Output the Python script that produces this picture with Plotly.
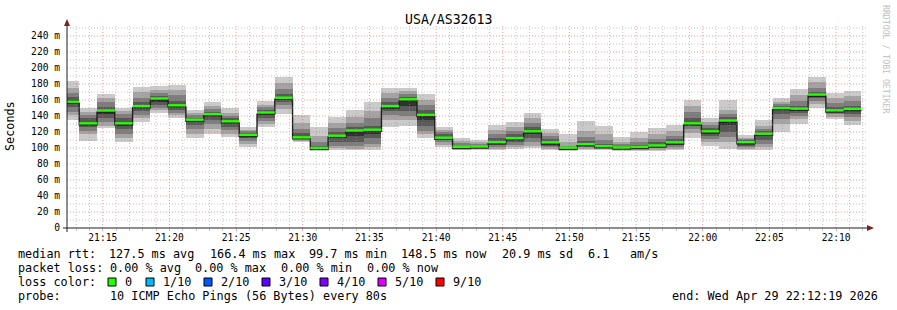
import plotly.graph_objects as go
import pandas as pd

# ---------------- data ----------------
title = "USA/AS32613"
start_time = "2026-04-29 21:12:19"
end_time = "2026-04-29 22:12:19"
first_step = "2026-04-29 21:11:54"
step_s = 80

median = [157.5, 130.5, 146.5, 130.5, 152, 161.5, 153, 135, 142, 133,
          116, 144, 162.5, 113, 99.7, 115, 121.5, 122.5, 152, 160.5,
          141, 112.5, 101, 101.5, 107, 112, 120.5, 106.7, 100, 104.5,
          102, 100.3, 101, 102.8, 106.7, 130.5, 120.5, 134, 107, 117.5,
          149.6, 148.8, 166.4, 146.7, 148.5]

# sorted ping ranks (1 = fastest ... 10 = slowest) per 80 s step
rank1 = [135, 109, 125, 108, 133, 144, 137, 112, 118, 114, 101, 126, 143, 107, 97, 97, 97, 97, 126, 128,
         112, 101, 97.5, 97, 97, 99, 100, 97, 96, 97, 97, 96, 96.5, 96.5, 97, 112, 103, 99, 97, 97,
         120, 130, 150, 136, 129]
rank2 = [141, 117, 128, 112, 137, 147, 141, 118, 124, 118, 105, 130, 149, 109, 98, 100, 99, 101, 135, 135,
         117, 104, 99, 98.5, 99, 101, 103, 99, 97.5, 99, 98.5, 97.5, 98, 98, 99, 119, 107, 107, 99, 101,
         130, 136, 155, 139, 134]
rank3 = [145, 121, 133, 118, 141, 150, 144, 124, 130, 122, 109, 134, 154, 111, 99, 103, 102, 105, 141, 140,
         121, 107, 100, 99.5, 101, 104, 107, 101, 98.5, 101, 100, 98.5, 99, 99.5, 101, 124, 111, 114, 101, 105,
         136, 140, 159, 142, 139]
rank4 = [151, 126, 137, 124, 146, 154, 148, 129, 135, 126, 112, 138, 158, 113, 99.5, 107, 107, 112, 146, 146,
         127, 110, 100.5, 100.5, 104, 107, 112, 103, 99, 102, 101, 99.5, 100, 101, 103.5, 127, 115, 120, 103, 110,
         142, 144, 163, 145, 143]
rank5 = [155, 129, 143, 128, 150, 158, 151, 133, 140, 131, 114, 142, 161, 114, 100, 112, 115, 118, 149, 153,
         135, 112, 101, 101, 106, 110, 117, 105, 99.5, 103.5, 101.5, 100, 101, 102, 105.5, 129, 118, 129, 106, 115,
         147, 147, 165, 146, 147]
rank6 = [160, 132, 148, 132, 153, 162, 154, 136, 143, 134, 117, 145, 164, 115, 101, 116, 122, 123, 153, 161,
         143, 114, 101.5, 102, 108, 113, 121, 108, 100, 105.5, 102.5, 101, 102, 104, 107.5, 132, 122, 135, 108, 119,
         151, 150, 167, 148, 150]
rank7 = [164, 137, 151, 137, 157, 165, 159, 138, 145, 137, 119, 148, 168, 119, 103, 120, 126, 128, 158, 164,
         148, 117, 103, 103, 112, 117, 126, 111, 101, 109, 105, 102.5, 104, 107, 111, 137, 125, 139, 109.5, 121,
         153, 153, 170, 151, 153]
rank8 = [169, 141, 157, 142, 163, 169, 166, 141, 149, 140, 121, 151, 174, 124, 108, 125, 131, 137, 163, 167,
         154, 120, 106, 105, 117, 121, 131, 115, 103, 114, 110, 105, 107, 111, 115, 145, 129, 143, 111, 124,
         155, 159, 175, 156, 159]
rank9 = [175, 145, 163, 146, 170, 173, 172, 144, 153, 144, 123, 154, 181, 131, 115, 131, 139, 146, 169, 171,
         160, 123, 109, 107, 122, 126, 137, 119, 107, 121, 117, 108, 112, 117, 121, 152, 133, 148, 113, 128,
         158, 166, 182, 162, 165]
rank10 = [184, 150, 168, 150, 176, 178, 179, 147, 158, 150, 126, 159, 189, 141, 126, 139, 147, 158, 175, 175,
          167, 126, 112, 110, 129, 133, 144, 124, 117, 134, 127, 114, 120, 125, 129, 160, 138, 160, 116, 135,
          162, 174, 189, 169, 171]

y_ticks = [0, 20, 40, 60, 80, 100, 120, 140, 160, 180, 200, 220, 240]
y_tick_text = ["0", "20 m", "40 m", "60 m", "80 m", "100 m", "120 m", "140 m",
               "160 m", "180 m", "200 m", "220 m", "240 m"]
y_max = 253.75

loss_labels = ["0", "1/10", "2/10", "3/10", "4/10", "5/10", "9/10"]
loss_colors = ["#26ff00", "#00b8ff", "#0059ff", "#5e00ff", "#7e00ff", "#dd00ff", "#ff0000"]

rtt_row = ["127.5 ms avg", "166.4 ms max", "99.7 ms min", "148.5 ms now", "20.9 ms sd", "6.1", "am/s"]
loss_row = ["0.00 % avg", "0.00 % max", "0.00 % min", "0.00 % now"]
probe_text = "10 ICMP Echo Pings (56 Bytes) every 80s"
end_text = "end: Wed Apr 29 22:12:19 2026"

# ---------------- style / geometry ----------------
FONT = "DejaVu Sans Mono"
W, H = 897, 310
L, R, T, B = 67, 867, 25, 228


def fx(p):
    return (p - L) / (R - L)


def fy(p):
    return (B - p) / (B - T)


band_colors = ["#cacaca", "#a4a4a4", "#7e7e7e", "#585858", "#323232"]
grid_minor = "rgba(143,143,143,0.55)"
grid_major = "rgba(222,79,79,0.55)"
arrow_col = "#7f1f1f"
axis_col = "#1f1f1f"
GDASH = "1px,2px"

starts = pd.date_range(first_step, periods=len(median), freq=f"{step_s}s")
centers = starts + pd.Timedelta(seconds=step_s / 2)
ends = starts + pd.Timedelta(seconds=step_s)

ranks = [rank1, rank2, rank3, rank4, rank5, rank6, rank7, rank8, rank9, rank10]

fig = go.Figure()

# smoke bands
for i in range(5):
    lo = ranks[i]
    hi = ranks[9 - i]
    fig.add_trace(go.Bar(
        x=centers, y=[h - l for h, l in zip(hi, lo)], base=lo,
        width=step_s * 1000,
        marker=dict(color=band_colors[i], line=dict(width=0)),
        hoverinfo="skip", showlegend=False,
    ))

# black median step line (with vertical joins)
mpx = (B - T) / y_max  # px per ms
fig.add_trace(go.Scatter(
    x=list(starts) + [ends[-1]],
    y=[m - 1.3 / mpx for m in median] + [median[-1] - 1.3 / mpx],
    mode="lines", line=dict(shape="hv", color="#202020", width=1.4),
    hoverinfo="skip", showlegend=False,
))

# green (0 loss) median marks
gx, gy = [], []
for s, e, m in zip(starts, ends, median):
    gx += [s, e, None]
    gy += [m + 0.3 / mpx, m + 0.3 / mpx, None]
fig.add_trace(go.Scatter(
    x=gx, y=gy, mode="lines", line=dict(color=loss_colors[0], width=2.4),
    hoverinfo="skip", showlegend=False,
))

shapes = []
# grid drawn above the data (rrdtool style)
for v in range(10, int(y_max) + 1, 10):
    if v % 20 == 0:
        continue
    shapes.append(dict(type="line", xref="paper", yref="y", x0=0, x1=1, y0=v, y1=v,
                       line=dict(color=grid_minor, width=1, dash=GDASH), layer="above"))
for v in y_ticks[1:]:
    shapes.append(dict(type="line", xref="paper", yref="y", x0=0, x1=1, y0=v, y1=v,
                       line=dict(color=grid_major, width=1, dash=GDASH), layer="above"))
t = pd.Timestamp(start_time).ceil("60s")
tend = pd.Timestamp(end_time)
while t <= tend:
    major = (t.minute % 5 == 0)
    shapes.append(dict(type="line", xref="x", yref="paper", x0=t, x1=t, y0=0, y1=1,
                       line=dict(color=grid_major if major else grid_minor, width=1, dash=GDASH),
                       layer="above"))
    t += pd.Timedelta(seconds=60)

# axes lines with arrows
shapes.append(dict(type="line", xref="paper", yref="paper", x0=fx(63), x1=fx(868), y0=0, y1=0,
                   line=dict(color=axis_col, width=1), layer="above"))
shapes.append(dict(type="line", xref="paper", yref="paper", x0=0, x1=0, y0=fy(232), y1=fy(24),
                   line=dict(color=axis_col, width=1), layer="above"))
shapes.append(dict(type="path", xref="paper", yref="paper",
                   path=f"M {fx(867)} {fy(225)} L {fx(874)} {fy(228)} L {fx(867)} {fy(231)} Z",
                   fillcolor=arrow_col, line=dict(width=0), layer="above"))
shapes.append(dict(type="path", xref="paper", yref="paper",
                   path=f"M {fx(64)} {fy(26)} L {fx(67)} {fy(19)} L {fx(70)} {fy(26)} Z",
                   fillcolor=arrow_col, line=dict(width=0), layer="above"))

annotations = []


def text(x, y, s, size=11.8, xanchor="left", color="black", angle=0):
    annotations.append(dict(xref="paper", yref="paper", x=fx(x), y=fy(y), text=s,
                            showarrow=False, xanchor=xanchor, yanchor="middle",
                            textangle=angle,
                            font=dict(family=FONT, size=size, color=color)))


text(448, 19, title, size=13.2, xanchor="center")
text(10, 126, "Seconds", angle=-90, xanchor="center")
text(886, 59, "RRDTOOL / TOBI OETIKER", size=8.2, xanchor="center", color="#c0c0c0", angle=90)

# legend rows
row_y = [254.3, 268.3, 282.3, 296.3]
text(16, row_y[0], "median rtt:")
for s, xp in zip(rtt_row, [107, 207.5, 307, 399, 500, 586, 628]):
    text(xp, row_y[0], s)
text(16, row_y[1], "packet loss:")
for s, xp in zip(loss_row, [107.5, 193, 279, 365]):
    text(xp, row_y[1], s)
text(16, row_y[2], "loss color:")
for lab, col, xp in zip(loss_labels, loss_colors, [108, 146, 204, 262, 320, 378, 436]):
    shapes.append(dict(type="rect", xref="paper", yref="paper",
                       x0=fx(xp), x1=fx(xp + 8), y0=fy(278), y1=fy(286),
                       fillcolor=col, line=dict(color="black", width=1), layer="above"))
    text(xp + 15, row_y[2], lab)
text(16, row_y[3], "probe:")
text(107.5, row_y[3], probe_text)
text(880, row_y[3], end_text, xanchor="right")

fig.update_layout(
    width=W, height=H,
    margin=dict(l=L, r=W - R, t=T, b=H - B, pad=0),
    paper_bgcolor="white", plot_bgcolor="white",
    barmode="overlay", bargap=0,
    showlegend=False,
    shapes=shapes, annotations=annotations,
    xaxis=dict(type="date", range=[start_time, end_time], tickformat="%H:%M",
               dtick=300000, tick0="2026-04-29 21:00:00",
               showgrid=False, zeroline=False, showline=False,
               ticks="outside", ticklen=2, tickcolor=grid_major,
               ticklabelstandoff=-2,
               tickfont=dict(family=FONT, size=9.6, color="black"),
               minor=dict(dtick=60000, tick0="2026-04-29 21:00:00", ticks="outside",
                          ticklen=2, tickcolor=grid_minor, showgrid=False)),
    yaxis=dict(range=[0, y_max], tickvals=y_ticks, ticktext=y_tick_text,
               showgrid=False, zeroline=False, showline=False, ticks="",
               ticklabelstandoff=6,
               tickfont=dict(family=FONT, size=9.6, color="black")),
)

fig.write_html("out.html")
